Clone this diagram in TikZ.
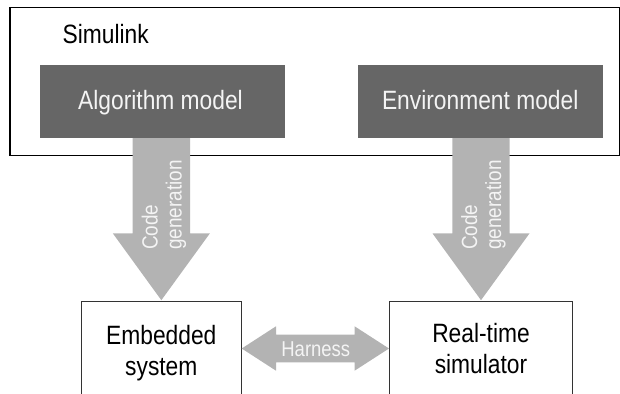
\documentclass[tikz,border=0pt]{standalone}
\usepackage{fontspec}
\setmainfont[FakeStretch=0.86]{Liberation Sans}
\usetikzlibrary{calc}
\definecolor{boxdark}{RGB}{102,102,102}
\definecolor{arrowgray}{RGB}{179,179,179}
\definecolor{lighttext}{RGB}{244,244,244}
\definecolor{edgegray}{RGB}{51,51,51}
\begin{document}
\begin{tikzpicture}[x=1pt,y=-1pt,
  every node/.style={inner sep=0pt, outer sep=0pt},
  bigtext/.style={font=\fontsize{26.5}{31}\selectfont},
  outerbox/.style={draw=black, line width=1.3pt, minimum width=609.3pt, minimum height=148pt, anchor=north west},
  modelbox/.style={fill=boxdark, minimum width=245pt, minimum height=73pt, anchor=north west},
  hwbox/.style={draw=edgegray, line width=1pt, minimum height=100pt, anchor=north west},
  modeltext/.style={bigtext, text=lighttext, anchor=base},
  hwtext/.style={bigtext, text=black, align=center},
  codetext/.style={font=\fontsize{22}{24}\selectfont, text=lighttext, rotate=90, align=left},
  harnesstext/.style={font=\fontsize{21.5}{24}\selectfont, text=lighttext, anchor=base},
  blockarrow/.style={fill=arrowgray}
]
\useasboundingbox (0,0) rectangle (620,393);

% Simulink container
\node[outerbox] (sim) at (10,7.5) {};
\node[bigtext, anchor=base west] (simlabel) at (62.7,43.3) {Simulink};

% model boxes
\node[modelbox] (alg) at (40,65) {};
\node[modeltext] (algt) at (160.5,109.3) {Algorithm model};
\node[modelbox] (env) at (357.7,65) {};
\node[modeltext] (envt) at (480.2,109.3) {Environment model};

% hardware boxes
\node[hwbox, minimum width=159.3pt] (emb) at (81.7,301.7) {};
\node[hwbox, minimum width=183.4pt] (real) at (389.3,301.7) {};

% code generation arrows
\fill[blockarrow] let \p1=(alg.south), \p2=(emb.north) in
  (\x2-28.7pt,\y1) -- (\x2+28.7pt,\y1) -- (\x2+28.7pt,\y2+68.3pt) --
  (\x2+48.5pt,\y2+68.3pt) -- (\x2,\y2+1.5pt) -- (\x2-48.5pt,\y2+68.3pt) --
  (\x2-28.7pt,\y2+68.3pt) -- cycle;
\fill[blockarrow] let \p1=(env.south), \p2=(real.north) in
  (\x2-28.7pt,\y1) -- (\x2+28.7pt,\y1) -- (\x2+28.7pt,\y2+68.3pt) --
  (\x2+48.5pt,\y2+68.3pt) -- (\x2,\y2+1.5pt) -- (\x2-48.5pt,\y2+68.3pt) --
  (\x2-28.7pt,\y2+68.3pt) -- cycle;
\node[codetext] (cg1) at (163.9,205) {Code\\generation};
\node[codetext] (cg2) at (483.4,205) {Code\\generation};

% redraw hardware box borders over arrow tips
\draw[edgegray, line width=1pt] (emb.south west) -- (emb.north west) -- (emb.north east) -- (emb.south east);
\draw[edgegray, line width=1pt] (real.south west) -- (real.north west) -- (real.north east) -- (real.south east);

\node[hwtext] (embt) at (161.3,353.3) {Embedded\\system};
\node[hwtext] (realt) at (481,348.5) {Real-time\\simulator};

% harness double arrow
\coordinate (hy) at (0,348.5);
\fill[blockarrow] let \p1=(emb.east |- hy), \p2=(real.west |- hy) in
  (\x1+0.7pt,\y1) -- (\x1+35pt,\y1+22.2pt) -- (\x1+35pt,\y1+13.8pt) --
  (\x2-34.7pt,\y1+13.8pt) -- (\x2-34.7pt,\y1+22.2pt) -- (\x2-0.3pt,\y2) --
  (\x2-34.7pt,\y1-22.2pt) -- (\x2-34.7pt,\y1-13.8pt) --
  (\x1+35pt,\y1-13.8pt) -- (\x1+35pt,\y1-22.2pt) -- cycle;
\node[harnesstext] (hlabel) at (315.8,356) {Harness};
\end{tikzpicture}
\end{document}
